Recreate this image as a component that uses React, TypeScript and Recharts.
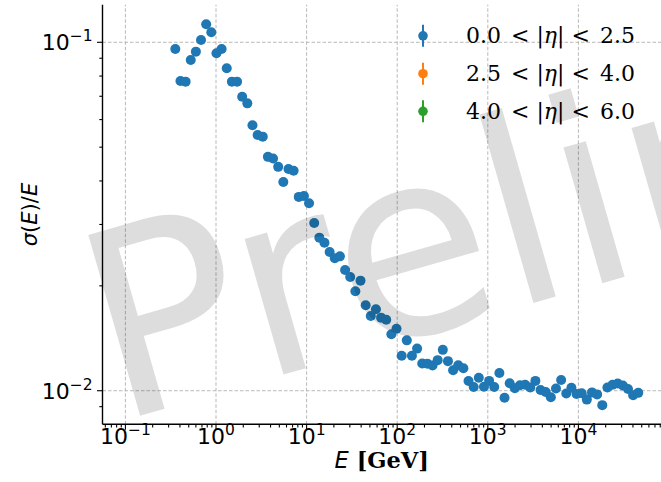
import React from "react";
import { ScatterChart, Scatter, XAxis, YAxis, ReferenceLine } from "recharts";

// Energy bins (GeV) and relative resolution sigma(E)/E for 0.0 < |eta| < 2.5
const energyGeV = [
  0.3555, 0.4052, 0.4618, 0.5262, 0.5997, 0.6834, 0.7789, 0.8876, 1.0116, 1.153,
  1.314, 1.497, 1.707, 1.945, 2.216, 2.526, 2.879, 3.281, 3.739, 4.262,
  4.857, 5.535, 6.31, 7.19, 8.194, 9.34, 10.64, 12.13, 13.82, 15.75,
  17.96, 20.46, 23.32, 26.58, 30.29, 34.52, 39.35, 44.84, 51.1, 58.24,
  66.37, 75.64, 86.21, 98.24, 112.0, 127.6, 145.4, 165.8, 188.9, 215.3,
  245.4, 279.6, 318.7, 363.2, 414.0, 471.8, 537.7, 612.8, 698.3, 795.8,
  907.0, 1034, 1178, 1343, 1530, 1744, 1988, 2265, 2581, 2942,
  3353, 3821, 4355, 4963, 5656, 6446, 7346, 8372, 9541, 10874,
  12392, 14125, 16098, 18345, 20908, 23827, 27155, 30948, 35268, 40193,
  45806,
];
const resolution = [
  0.0957, 0.0774, 0.0771, 0.089, 0.094, 0.1015, 0.1126, 0.1068, 0.093, 0.0957,
  0.0842, 0.0771, 0.0771, 0.0698, 0.0668, 0.0578, 0.0542, 0.0536, 0.0469, 0.0464,
  0.0439, 0.0397, 0.0433, 0.0428, 0.036, 0.0362, 0.0345, 0.0303, 0.0275, 0.0266,
  0.025, 0.024, 0.0243, 0.0222, 0.0212, 0.0193, 0.0207, 0.0176, 0.01639, 0.01714,
  0.01621, 0.01599, 0.01453, 0.01507, 0.0126, 0.01395, 0.0126, 0.01321, 0.01197, 0.01196,
  0.01182, 0.01224, 0.0131, 0.01216, 0.01145, 0.01184, 0.0116, 0.01066, 0.01025, 0.0109,
  0.01027, 0.01067, 0.01025, 0.01124, 0.00955, 0.01051, 0.01017, 0.01037, 0.0104, 0.01021,
  0.01067, 0.01005, 0.00992, 0.00958, 0.01015, 0.01073, 0.00982, 0.0102, 0.00978, 0.00984,
  0.00943, 0.00989, 0.00976, 0.00909, 0.01021, 0.0104, 0.01049, 0.01035, 0.01011, 0.00971,
  0.00986,
];

const legendLabels = [
  ["0.0", "2.5"],
  ["2.5", "4.0"],
  ["4.0", "6.0"],
];
const seriesColors = ["#1f77b4", "#ff7f0e", "#2ca02c"];

const xMajorTicks = [0.1, 1, 10, 100, 1000, 10000];
const xMinorTicks = [
  0.06, 0.07, 0.08, 0.09,
  0.2, 0.3, 0.4, 0.5, 0.6, 0.7, 0.8, 0.9,
  2, 3, 4, 5, 6, 7, 8, 9,
  20, 30, 40, 50, 60, 70, 80, 90,
  200, 300, 400, 500, 600, 700, 800, 900,
  2000, 3000, 4000, 5000, 6000, 7000, 8000, 9000,
  20000, 30000, 40000, 50000, 60000, 70000, 80000,
];
const yMajorTicks = [0.01, 0.1];
const yMinorTicks = [0.009, 0.02, 0.03, 0.04, 0.05, 0.06, 0.07, 0.08, 0.09];

const xDomain = [0.05587, 81600];
const yDomain = [0.00801, 0.1282];

const data = energyGeV.map((e, i) => ({ e, r: resolution[i] }));

const TICK_FONT = "DejaVu Sans, sans-serif";
const GRID = "#b0b0b0";

function isMajor(v: number) {
  const l = Math.log10(v);
  return Math.abs(l - Math.round(l)) < 1e-6;
}

function PowLabel({ x, y, exp, anchor }: any) {
  const e = exp < 0 ? "\u2212" + Math.abs(exp) : String(exp);
  return (
    <text x={x} y={y} textAnchor={anchor} fontFamily={TICK_FONT} fontSize={22} fill="#000">
      <tspan>10</tspan>
      <tspan dy={-9} fontSize={15.5}>{e}</tspan>
    </text>
  );
}

function XTick(props: any) {
  const { x, y, payload } = props;
  const v = payload.value;
  const major = isMajor(v);
  const len = major ? 5.5 : 3.2;
  return (
    <g>
      <line x1={x} x2={x} y1={y} y2={y + len} stroke="#000" strokeWidth={1.1} />
      {major && <PowLabel x={x} y={y + 20} exp={Math.round(Math.log10(v))} anchor="middle" />}
    </g>
  );
}

function YTick(props: any) {
  const { x, y, payload } = props;
  const v = payload.value;
  const major = isMajor(v);
  const len = major ? 5.5 : 3.2;
  return (
    <g>
      <line x1={x - len} x2={x} y1={y} y2={y} stroke="#000" strokeWidth={1.1} />
      {major && <PowLabel x={x - 10} y={y + 8} exp={Math.round(Math.log10(v))} anchor="end" />}
    </g>
  );
}

function XLabel(props: any) {
  const vb = props.viewBox || {};
  const cx = vb.x + vb.width / 2;
  return (
    <text x={cx} y={vb.y + 44} textAnchor="middle" fontSize={22.5} fill="#000">
      <tspan fontFamily="DejaVu Sans" fontStyle="italic">E</tspan>
      <tspan fontFamily="DejaVu Serif" fontWeight="bold"> [GeV]</tspan>
    </text>
  );
}

function YLabel(props: any) {
  const vb = props.viewBox || {};
  const cy = vb.y + vb.height / 2;
  const x = 37;
  return (
    <text
      x={x}
      y={cy}
      transform={`rotate(-90 ${x} ${cy})`}
      textAnchor="middle"
      fontFamily="DejaVu Sans"
      fontSize={21}
      fill="#000"
    >
      <tspan fontStyle="italic">σ</tspan>
      <tspan>(</tspan>
      <tspan fontStyle="italic">E</tspan>
      <tspan>)/</tspan>
      <tspan fontStyle="italic">E</tspan>
    </text>
  );
}

function Dot(props: any) {
  const { cx, cy } = props;
  if (cx == null || cy == null) return null;
  return <circle cx={cx} cy={cy} r={5} fill={seriesColors[0]} />;
}

function LegendBox() {
  const baselines = [43.3, 81.2, 118.8];
  return (
    <g>
      {legendLabels.map((lab, i) => {
        const by = baselines[i];
        const my = by - 7.5;
        return (
          <g key={i}>
            <line x1={423} x2={423} y1={my - 11} y2={my + 11} stroke={seriesColors[i]} strokeWidth={2} />
            <circle cx={423} cy={my} r={4.8} fill={seriesColors[i]} />
            <text x={466} y={by} fontFamily="DejaVu Serif" fontSize={22} fill="#000">
              <tspan>{lab[0]}</tspan>
              <tspan dx={10}>&lt;</tspan>
              <tspan dx={7}>|</tspan>
              <tspan fontStyle="italic">η</tspan>
              <tspan>|</tspan>
              <tspan dx={7}>&lt;</tspan>
              <tspan dx={10}>{lab[1]}</tspan>
            </text>
          </g>
        );
      })}
    </g>
  );
}

export default function App() {
  return (
    <div
      style={{
        position: "absolute",
        left: 0,
        top: 0,
        width: 661,
        height: 482,
        overflow: "hidden",
        background: "#fff",
      }}
    >
      <div style={{ position: "absolute", left: 0, top: 0 }}>
        <ScatterChart
          width={661}
          height={482}
          margin={{ top: 4.7, right: 0, bottom: 0, left: 0 }}
        >
          <XAxis
            xAxisId="top"
            orientation="top"
            type="number"
            scale="log"
            domain={xDomain}
            allowDataOverflow
            height={0}
            tick={false}
            tickLine={false}
            axisLine={{ stroke: "#000", strokeWidth: 1.4 }}
          />
          <XAxis
            dataKey="e"
            type="number"
            scale="log"
            domain={xDomain}
            allowDataOverflow
            ticks={[...xMajorTicks, ...xMinorTicks]}
            interval={0}
            height={57.7}
            tickSize={0}
            tickMargin={0}
            tickLine={false}
            tick={<XTick />}
            axisLine={{ stroke: "#000", strokeWidth: 1.4 }}
            label={<XLabel />}
          />
          <YAxis
            dataKey="r"
            type="number"
            scale="log"
            domain={yDomain}
            allowDataOverflow
            ticks={[...yMajorTicks, ...yMinorTicks]}
            interval={0}
            width={102.5}
            tickSize={0}
            tickMargin={0}
            tickLine={false}
            tick={<YTick />}
            axisLine={{ stroke: "#000", strokeWidth: 1.4 }}
            label={<YLabel />}
          />
          {xMajorTicks.map((v) => (
            <ReferenceLine key={"gx" + v} x={v} stroke={GRID} strokeDasharray="3.5 2" strokeWidth={0.9} />
          ))}
          {yMajorTicks.map((v) => (
            <ReferenceLine key={"gy" + v} y={v} stroke={GRID} strokeDasharray="3.5 2" strokeWidth={0.9} />
          ))}
          <Scatter data={data} dataKey="r" fill={seriesColors[0]} shape={<Dot />} isAnimationActive={false} />
        </ScatterChart>
      </div>
      <svg style={{ position: "absolute", left: 0, top: 0 }} width={661} height={482}>
        <LegendBox />
        <text
          x={115.8}
          y={422.7}
          transform="rotate(-16 115.8 422.7)"
          fontFamily="DejaVu Sans"
          fontSize={258}
          fill="#000"
          fillOpacity={0.135}
        >
          Preliminary
        </text>
      </svg>
    </div>
  );
}
